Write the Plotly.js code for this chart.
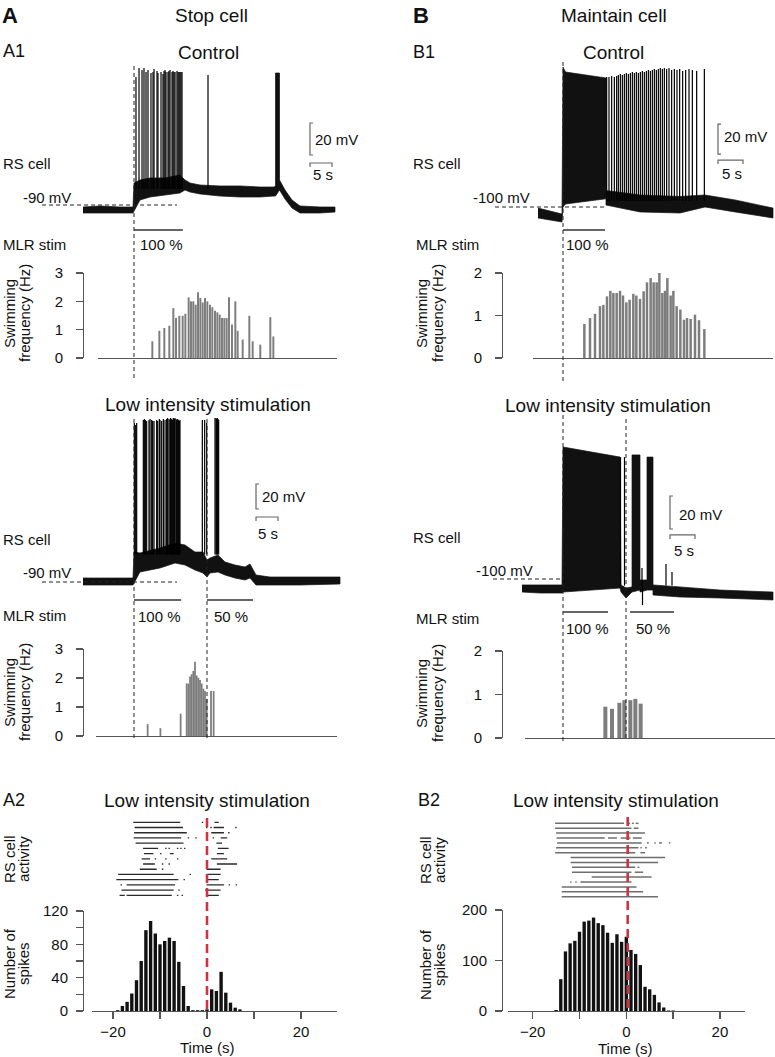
<!DOCTYPE html>
<html><head><meta charset="utf-8">
<script src="https://cdn.plot.ly/plotly-3.0.1.min.js"></script>
<style>html,body{margin:0;padding:0;background:#fff}#chart{width:775px;height:1057px}</style>
</head><body><div id="chart"></div><script>
// ================= DATA =================
// Times in s from first MLR stimulation onset (A1/B1) or from 50% onset (A2/B2); membrane potential in mV.

// ---- A1 Control (Stop cell) : RS cell trace envelope + spikes ----
const aCtrlEnvT  = [-11.59,-7.73,-3.18,-0.23,0,1.36,3.64,7.05,10.45,11.59,12.73,15,19.55,24.09,28.64,31.82,32.16,32.16,33.07,33.07,34.32,35.91,37.73,42.27,45.68];
const aCtrlEnvUp = [-91.25,-90.6,-91.25,-91.25,-76.25,-74.4,-73.1,-73.1,-71.25,-74.4,-76.25,-77.5,-78.1,-78.1,-78.75,-78.75,-78.1,-7.5,-7.5,-74.4,-80.6,-86.9,-90.6,-91.25,-91.25];
const aCtrlEnvLo = [-95,-95,-95,-95,-94.4,-86.9,-85,-83.75,-82.5,-80.6,-81.9,-83.1,-84.4,-85,-85,-84.4,-84.4,-84.4,-80.6,-80.6,-86.25,-91.9,-95,-95,-94.4];
const aCtrlSpikeT    = [0.45,1.14,1.82,2.27,2.73,3.18,3.86,4.32,4.55,5.23,5.45,6.14,6.59,6.82,7.05,7.27,7.73,7.95,8.18,8.64,8.86,9.09,9.32,9.77,10.0,10.23,10.45,10.68,10.91,16.82];
const aCtrlSpikePeak = [-10,-4.4,-5.6,-4.4,-6.9,-5.6,-7.5,-6.9,-5,-6.3,-7.5,-6.9,-8.1,-6.3,-5.6,-6.9,-6.9,-6.3,-5.6,-6.9,-6.3,-6.9,-6.9,-6.3,-6.9,-6.9,-6.9,-6.9,-6.9,-8.75];
const aCtrlSpikeBase = -80;
const aCtrlStim = [[0, 11.1]];
const aCtrlSwimT  = [4.17,5.76,6.89,8.03,8.94,9.55,10.3,11.06,11.67,12.42,12.95,13.48,14.02,14.55,15.08,15.61,16.14,16.67,17.27,17.8,18.41,18.94,19.47,20.0,20.53,21.06,21.59,22.27,23.03,23.56,24.7,26.21,26.97,28.7,30.98,31.67];
const aCtrlSwimHz = [0.59,0.96,1.06,1.14,1.76,1.41,1.49,1.49,1.56,2.14,2.0,2.0,1.88,2.32,2.12,1.96,2.12,2.0,1.88,1.79,1.67,1.61,1.53,1.41,1.41,1.41,2.14,1.18,2.0,0.96,0.65,1.49,0.59,0.47,1.44,0.76];

// ---- A1 Low intensity ----
const aLowEnvT  = [-11.59,-5.45,-0.23,0,1.36,5.91,9.32,11.59,13.86,15.68,16.59,17.27,19.09,20.68,22.95,25.23,26.36,27.73,30.91,37.73,46.82];
const aLowEnvUp = [-86.8,-86.8,-86.8,-66,-66.8,-62.8,-58.8,-60.4,-66,-66,-72.4,-70.8,-68.4,-74,-76.4,-78,-75.6,-84.4,-86,-86,-86];
const aLowEnvLo = [-92.4,-92.4,-92.4,-91.6,-82,-78.8,-74.8,-76.4,-80.4,-82.8,-86,-82.8,-82,-84.4,-86.8,-88.4,-86.8,-92.4,-92.4,-92.4,-91.6];
const aLowSpikeT    = [0.08,0.38,0.61,2.12,2.35,2.58,2.88,3.41,3.64,4.02,4.24,4.55,5.15,5.38,5.76,5.91,6.29,6.67,7.05,7.42,7.65,7.95,8.18,8.33,8.56,8.79,8.94,9.17,9.32,9.55,9.7,9.92,10.08,10.3,10.45,15.53,16.06,16.52,18.41,18.64,18.79,18.94,19.09,19.24];
const aLowSpikePeak = [37.2,35.6,37.2,39.6,40.4,39.6,38.8,39.6,40.4,39.6,38.8,38.8,39.6,38.8,40.4,39.6,38.8,40.4,39.6,40.4,41.2,40.4,39.6,41.2,40.4,39.6,41.2,40.4,41.2,40.4,39.6,40.4,39.6,38.8,39.6,39.6,39.6,37.2,41.2,41.2,40.4,41.2,40.4,39.6];
const aLowSpikeBase = -68;
const aLowStim = [[0, 10.7], [16.59, 27.05]];
const aLowSwimT  = [3.1,6.0,10.6,11.97,12.35,12.73,13.1,13.48,13.86,14.24,14.62,15.0,15.38,15.76,16.14,16.52,17.5,18.1];
const aLowSwimHz = [0.41,0.27,0.77,1.81,1.81,2.05,2.13,2.24,2.56,2.09,2.01,1.93,1.81,1.63,1.55,1.28,1.55,1.55];

// ---- A2 raster (15 trials) & spike histogram ----
const aRasterRows = [
  [[-15.7,-5.7],[-1.1,-0.8],[1.6,2.5]],
  [[-15.4,-5.1],[-0.2,0.1],[0.7,1.0],[1.4,3.6],[6.0,6.3]],
  [[-15.5,-4.3],[0.9,3.6],[4.5,4.8]],
  [[-15.6,-5.5],[-4.1,-3.8],[-2.5,-2.2],[1.2,1.5],[2.9,4.3]],
  [[-15.2,-5.0],[2.0,3.2]],
  [[-13.6,-10.4],[-8.9,-8.6],[-8.2,-7.9],[-6.4,-6.1],[-5.7,-5.4],[-4.9,-4.6],[2.3,4.6]],
  [[-13.4,-11.4],[-10.0,-9.7],[-7.9,-7.1],[2.1,3.6]],
  [[-13.9,-12.1],[-11.1,-10.8],[-8.9,-8.6],[-6.4,-6.1],[0.9,4.3]],
  [[-13.6,-11.1],[-9.6,-9.3],[-8.2,-7.9],[2.1,6.4]],
  [[-14.3,-10.7],[-9.6,-9.3],[-0.1,2.9]],
  [[-18.9,-7.1],[-3.7,-3.4],[0,2.9]],
  [[-19.3,-6.1],[-5.0,-4.7],[0,2.5]],
  [[-18.4,-18.1],[-17.1,-6.8],[-0.1,3.6],[4.6,4.9],[6.1,6.4]],
  [[-18.2,-7.1],[-6.1,-5.8],[-0.4,2.9]],
  [[-18.6,-17.5],[-17.1,-7.5],[-6.4,-6.1],[-5.4,-5.1],[0,2.5]]
];
const aHistT = [-19,-18,-17,-16,-15,-14,-13,-12,-11,-10,-9,-8,-7,-6,-5,-4,-3,-2,-1,0,1,2,3,4,5,6,7];
const aHistN = [1,6,11,21,37,60,97,108,93,80,84,88,84,59,30,6,1,1,1,2,26,24,47,22,10,4,2];

// ---- B1 Control (Maintain cell) ----
const bCtrlEnvT  = [-5,-2.6,-0.2,0,0.5,8.6,8.6,15.4,23.4,28.4,34.4,42];
const bCtrlEnvUp = [-100.7,-102.7,-104.7,-6.7,-10,-14,-89,-92,-93,-92,-95.3,-100.7];
const bCtrlEnvLo = [-107.3,-108.7,-110,-100,-98,-94.5,-98.7,-103.3,-104,-100,-103.3,-107.3];
const bCtrlSpikeT    = [8.73,9.2,9.73,10.27,10.73,11.07,11.47,11.87,12.27,12.67,13.07,13.47,13.87,14.27,14.67,15.07,15.47,15.87,16.27,16.67,17.07,17.47,17.87,18.27,18.67,19.07,19.47,19.87,20.27,20.73,21.2,21.73,22.27,22.8,23.33,23.93,24.53,25.2,25.87,26.73,28.27];
const bCtrlSpikePeak = [-13.3,-13.3,-12.7,-13.3,-12.7,-12,-11.3,-12,-11.3,-10.7,-11.3,-10.7,-10,-10.7,-10,-10.7,-10,-9.3,-10,-9.3,-8.7,-9.3,-8.7,-8,-8.7,-8,-7.3,-8,-7.3,-8,-7.3,-8.7,-8,-8.7,-8,-9.3,-8.7,-8,-8.7,-9.3,-8];
const bCtrlSpikeBase = -96;
const bCtrlStim = [[0, 8.4]];
const bCtrlSwimT  = [4.27,5.4,6.4,7.4,8.07,8.8,9.47,10.07,10.73,11.4,12.0,12.67,13.33,14.07,14.67,15.4,16.13,16.8,17.53,18.13,18.73,19.27,19.87,20.4,20.87,21.53,22.07,22.73,23.47,24.2,24.8,25.53,26.4,27.2,28.27];
const bCtrlSwimHz = [0.80,0.94,1.04,1.22,1.25,1.45,1.58,1.53,1.53,1.58,1.47,1.31,1.37,1.51,1.47,1.39,1.57,1.78,1.88,1.78,1.78,2.02,1.53,1.58,1.88,1.47,1.58,1.22,1.14,0.90,0.94,0.92,1.02,0.89,0.68];

// ---- B1 Low intensity ----
const bLowEnvT  = [-8.2,-4.6,-0.2,0,11.4,11.6,12.6,13.8,13.8,15.4,15.4,16.8,16.8,18.0,18.0,23.4,31.4,42];
const bLowEnvUp = [-103.6,-103.6,-103.6,-20,-26.1,-103.6,-105.5,-104.8,-24.8,-24.8,-100.6,-100.6,-26.1,-26.1,-103.6,-104.8,-106.7,-107.9];
const bLowEnvLo = [-107.9,-108.5,-108.5,-107.9,-105.5,-107.9,-111.5,-107.9,-107.9,-106.7,-107.9,-106.7,-106.7,-106.7,-109.7,-110.9,-111.5,-112.7];
const bLowSpikeT    = [11.5,12.3,15.8,15.9,20.6,21.8];
const bLowSpikePeak = [-26.1,-26.1,-93.3,-115.8,-90.9,-95.8];
const bLowSpikeBase = -104;
const bLowStim = [[0, 9.0], [13.4, 22.2]];
const bLowSecondOnset = 12.6;
const bLowSwimT  = [8.47,9.8,11.27,12.27,13.47,14.47,15.53];
const bLowSwimHz = [0.72,0.67,0.81,0.87,0.87,0.9,0.79];

// ---- B2 raster (16 trials) & spike histogram ----
const bRasterRows = [
  [[-15.2,-0.5],[0.4,0.8],[1.2,1.6],[2.0,2.6]],
  [[-15.2,1.1],[1.6,2.6]],
  [[-15.0,4.0]],
  [[-14.9,-4.6],[-3.9,-2.0],[-1.2,0.9],[1.4,3.3]],
  [[-14.8,3.3],[4.4,4.8],[6.0,6.3],[7.0,7.6],[9.1,9.4]],
  [[-15.0,2.6],[3.0,3.3],[4.0,4.4]],
  [[-15.2,1.9],[3.0,4.0]],
  [[-11.9,8.3]],
  [[-11.9,6.8]],
  [[-11.6,1.9],[2.4,2.8]],
  [[-11.6,1.1],[1.8,3.6]],
  [[-7.4,5.4]],
  [[-12.0,-11.7],[-10.9,-10.6],[-9.8,1.1]],
  [[-13.8,2.2]],
  [[-13.8,3.6]],
  [[-13.8,6.8]]
];
const bHistT = [-15,-14,-13,-12,-11,-10,-9,-8,-7,-6,-5,-4,-3,-2,-1,0,1,2,3,4,5,6,7,8,9,10];
const bHistN = [2,63,118,134,139,157,177,179,185,174,170,155,135,152,137,147,121,113,91,48,43,32,17,7,1,1];
const bRedLineT = 0.3;

const restA = -90, restB = -100;
const aSecondOnset = 16.59;

// ================= DRAWING =================
const W = 775, H = 1057;
const FONT = '"Liberation Sans", Arial, Helvetica, sans-serif';
const AX = '#555';
const domX = (l, r) => [l / W, r / W];
const domY = (t, b) => [1 - b / H, 1 - t / H];
const P = y => 1 - y / H;

function hx(l, r, p0, pps, anchor) {
  return {domain: domX(l, r), range: [(l - p0) / pps, (r - p0) / pps], anchor, visible: false, fixedrange: true};
}
function hy(t, b, pRef, vRef, ppu, anchor) {
  return {domain: domY(t, b), range: [vRef - (b - pRef) / ppu, vRef + (pRef - t) / ppu], anchor, visible: false, fixedrange: true};
}
function lineX(l, r, p0, pps, anchor) {
  return {domain: domX(l, r), range: [(l - p0) / pps, (r - p0) / pps], anchor, showline: true, linecolor: AX, linewidth: 1.4,
    ticks: '', showticklabels: false, showgrid: false, zeroline: false, fixedrange: true};
}
function histX(l, r, p0, pps, anchor) {
  return {domain: domX(l, r), range: [(l - p0) / pps, (r - p0) / pps], anchor, showline: true, linecolor: AX, linewidth: 1.4,
    ticks: 'outside', ticklen: 7, tickwidth: 1.3, tickcolor: AX, tickvals: [-20, -10, 0, 10, 20], ticktext: ['\u221220', '', '0', '', '20'],
    tickfont: {family: FONT, size: 15, color: '#111'}, showgrid: false, zeroline: false, fixedrange: true};
}
function visY(t, b, range, xpos, tickvals, ticktext, standoff) {
  return {domain: domY(t, b), range, anchor: 'free', position: xpos / W, showline: true, linecolor: AX, linewidth: 1.4,
    ticks: 'outside', ticklen: 7, tickwidth: 1.3, tickcolor: AX, tickvals, ticktext: ticktext || tickvals.map(String),
    tickfont: {family: FONT, size: 15, color: '#111'}, ticklabelstandoff: standoff, showgrid: false, zeroline: false, fixedrange: true};
}

const A_P0 = 134, A_PPS = 4.4, B_P0 = 563, B_PPS = 5.0, A2_P0 = 207, A2_PPS = 4.7, B2_P0 = 626.3, B2_PPS = 4.68;

const layout = {
  width: W, height: H, margin: {l: 0, r: 0, t: 0, b: 0}, showlegend: false,
  paper_bgcolor: '#fff', plot_bgcolor: 'rgba(0,0,0,0)',
  font: {family: FONT, size: 15, color: '#111'},
  xaxis: hx(40, 345, A_P0, A_PPS, 'y'),          yaxis: hy(55, 225, 205, restA, 1.6, 'x'),
  xaxis2: lineX(98, 337, A_P0, A_PPS, 'y2'),     yaxis2: visY(273, 358, [0, 3], 83, [0, 1, 2, 3], null, 10),
  xaxis3: hx(40, 345, A_P0, A_PPS, 'y3'),        yaxis3: hy(410, 600, 582, restA, 1.25, 'x3'),
  xaxis4: lineX(96, 337, A_P0, A_PPS, 'y4'),     yaxis4: visY(649, 736, [0, 3], 83, [0, 1, 2, 3], null, 10),
  xaxis5: hx(92, 337, A2_P0, A2_PPS, 'y5'),      yaxis5: {domain: domY(819.7, 897.9), range: [15.5, 0.5], visible: false, anchor: 'x5', fixedrange: true},
  xaxis6: histX(92, 337, A2_P0, A2_PPS, 'y6'),   yaxis6: visY(911, 1011, [0, 120], 83, [0, 20, 40, 60, 80, 100, 120], ['0', '', '40', '', '80', '', '120'], 5),
  xaxis7: hx(470, 775, B_P0, B_PPS, 'y7'),       yaxis7: hy(55, 225, 207, restB, 1.5, 'x7'),
  xaxis8: lineX(533, 773, B_P0, B_PPS, 'y8'),    yaxis8: visY(273, 358, [0, 2], 502, [0, 1, 2], null, 10),
  xaxis9: hx(470, 775, B_P0, B_PPS, 'y9'),       yaxis9: hy(430, 610, 579, restB, 1.65, 'x9'),
  xaxis10: lineX(525, 775, B_P0, B_PPS, 'y10'),  yaxis10: visY(651, 738, [0, 2], 502, [0, 1, 2], null, 10),
  xaxis11: hx(508, 745, B2_P0, B2_PPS, 'y11'),   yaxis11: {domain: domY(820.9, 899.1), range: [16.5, 0.5], visible: false, anchor: 'x11', fixedrange: true},
  xaxis12: histX(508, 745, B2_P0, B2_PPS, 'y12'), yaxis12: visY(910, 1011, [0, 200], 502, [0, 100, 200], null, 5),
  shapes: [], annotations: []
};

const traces = [];
function envelope(T, U, L, xa, ya) {
  traces.push({type: 'scatter', mode: 'lines', x: T.concat(T.slice().reverse()), y: U.concat(L.slice().reverse()),
    fill: 'toself', fillcolor: '#111', line: {color: '#111', width: 0.7}, xaxis: xa, yaxis: ya, hoverinfo: 'skip'});
}
function spikes(T, Pk, base, xa, ya) {
  const x = [], y = [];
  T.forEach((t, i) => { x.push(t, t, null); y.push(base, Pk[i], null); });
  traces.push({type: 'scatter', mode: 'lines', x, y, line: {color: '#000', width: 1.2}, xaxis: xa, yaxis: ya, hoverinfo: 'skip'});
}
function bars(T, V, w, color, xa, ya) {
  traces.push({type: 'bar', x: T, y: V, width: w, marker: {color, line: {width: 0}}, xaxis: xa, yaxis: ya, hoverinfo: 'skip'});
}
function raster(rows, color, width, xa, ya) {
  const x = [], y = [];
  rows.forEach((segs, i) => segs.forEach(s => { x.push(s[0], s[1], null); y.push(i + 1, i + 1, null); }));
  traces.push({type: 'scatter', mode: 'lines', x, y, line: {color, width}, xaxis: xa, yaxis: ya, hoverinfo: 'skip'});
}
function scaleBar(xa, ya, t0, vBot, hV, tT, tV) {
  const c = '#666';
  traces.push({type: 'scatter', mode: 'lines', x: [t0 + tT, t0, t0, t0 + tT], y: [vBot + 20, vBot + 20, vBot, vBot],
    line: {color: c, width: 1.2}, xaxis: xa, yaxis: ya, hoverinfo: 'skip'});
  traces.push({type: 'scatter', mode: 'lines', x: [t0, t0, t0 + 5, t0 + 5], y: [hV - tV, hV, hV, hV - tV],
    line: {color: c, width: 1.2}, xaxis: xa, yaxis: ya, hoverinfo: 'skip'});
}

// A column
envelope(aCtrlEnvT, aCtrlEnvUp, aCtrlEnvLo, 'x', 'y');
spikes(aCtrlSpikeT, aCtrlSpikePeak, aCtrlSpikeBase, 'x', 'y');
scaleBar('x', 'y', 40.0, -58.75, -63.75, 0.7, 2.5);
bars(aCtrlSwimT, aCtrlSwimHz, 0.45, '#7d7d7d', 'x2', 'y2');
envelope(aLowEnvT, aLowEnvUp, aLowEnvLo, 'x3', 'y3');
spikes(aLowSpikeT, aLowSpikePeak, aLowSpikeBase, 'x3', 'y3');
scaleBar('x3', 'y3', 27.73, -31.6, -38, 0.7, 3.2);
bars(aLowSwimT, aLowSwimHz, 0.4, '#7d7d7d', 'x4', 'y4');
raster(aRasterRows, '#2a2a2a', 1.3, 'x5', 'y5');
bars(aHistT, aHistN, 0.72, '#111', 'x6', 'y6');
// B column
envelope(bCtrlEnvT, bCtrlEnvUp, bCtrlEnvLo, 'x7', 'y7');
spikes(bCtrlSpikeT, bCtrlSpikePeak, bCtrlSpikeBase, 'x7', 'y7');
scaleBar('x7', 'y7', 31.0, -64.7, -68.7, 0.6, 2.7);
bars(bCtrlSwimT, bCtrlSwimHz, 0.5, '#7d7d7d', 'x8', 'y8');
envelope(bLowEnvT, bLowEnvUp, bLowEnvLo, 'x9', 'y9');
spikes(bLowSpikeT, bLowSpikePeak, bLowSpikeBase, 'x9', 'y9');
scaleBar('x9', 'y9', 21.4, -69.7, -73.3, 0.6, 2.4);
bars(bLowSwimT, bLowSwimHz, 0.8, '#7d7d7d', 'x10', 'y10');
raster(bRasterRows, '#6e6e6e', 1.5, 'x11', 'y11');
bars(bHistT, bHistN, 0.72, '#111', 'x12', 'y12');

// ---- shapes ----
const S = layout.shapes;
const dash = {color: '#222', width: 1, dash: '4px,3px'};
function vdash(xa, t, y0, y1) { S.push({type: 'line', xref: xa, yref: 'paper', x0: t, x1: t, y0: P(y0), y1: P(y1), line: dash}); }
function hdash(xa, ya, t0, t1, v) { S.push({type: 'line', xref: xa, yref: ya, x0: t0, x1: t1, y0: v, y1: v, line: dash}); }
function stimBars(xa, list, py) { list.forEach(s => S.push({type: 'line', xref: xa, yref: 'paper', x0: s[0], x1: s[1], y0: P(py), y1: P(py), line: {color: '#333', width: 1.6}})); }
vdash('x', 0, 66, 381); vdash('x3', 0, 419, 741); vdash('x3', aSecondOnset, 419, 741);
vdash('x7', 0, 62, 381); vdash('x9', 0, 415, 741); vdash('x9', bLowSecondOnset, 419, 741);
hdash('x', 'y', -20.9, 9.77, restA);
hdash('x3', 'y3', -20.9, 9.77, restA);
hdash('x7', 'y7', -13.6, 8.8, restB);
hdash('x9', 'y9', -14.0, -0.2, restB);
stimBars('x', aCtrlStim, 230); stimBars('x3', aLowStim, 600);
stimBars('x7', bCtrlStim, 230); stimBars('x9', bLowStim, 612);
const red = {color: '#cf3340', width: 2.6, dash: '9px,5px'};
S.push({type: 'line', xref: 'x6', yref: 'paper', x0: 0, x1: 0, y0: P(818), y1: P(1011), line: red});
S.push({type: 'line', xref: 'x12', yref: 'paper', x0: bRedLineT, x1: bRedLineT, y0: P(817), y1: P(1011), line: red});

// ---- text ----
const A = layout.annotations;
function T(text, x, y, o) {
  A.push(Object.assign({text, x: x / W, y: P(y), xref: 'paper', yref: 'paper', showarrow: false, xanchor: 'left', yanchor: 'middle',
    font: {family: FONT, size: 15, color: '#111'}}, o || {}));
}
const big = {font: {family: FONT, size: 19, color: '#111'}, xanchor: 'center'};
const rot = {textangle: -90, xanchor: 'center'};
T('<b>A</b>', 0, 15, {font: {family: FONT, size: 22, color: '#111'}});
T('Stop cell', 211, 15, big);
T('A1', 1, 51, {font: {family: FONT, size: 18, color: '#111'}});
T('Control', 209, 52, big);
T('<b>B</b>', 411, 15, {font: {family: FONT, size: 22, color: '#111'}});
T('Maintain cell', 614, 15, big);
T('B1', 411, 52, {font: {family: FONT, size: 18, color: '#111'}});
T('Control', 613, 52, big);
// A1 control
T('RS cell', 1, 163); T('-90 mV', 21, 197); T('20 mV', 313, 139); T('5 s', 311, 175);
T('MLR stim', 1, 244); T('100 %', 138, 244);
T('Swimming', 9, 314, rot); T('frequency (Hz)', 24, 313, rot);
// B1 control
T('RS cell', 411, 163); T('-100 mV', 471, 197); T('20 mV', 722, 137); T('5 s', 720, 173);
T('MLR stim', 414, 244); T('100 %', 564, 244);
T('Swimming', 421, 314, rot); T('frequency (Hz)', 437, 313, rot);
// A1 low
T('Low intensity stimulation', 207.5, 404, big);
T('RS cell', 1, 539); T('-90 mV', 21, 572); T('20 mV', 260, 496); T('5 s', 256, 533);
T('MLR stim', 1, 615); T('100 %', 136, 616); T('50 %', 212, 616);
T('Swimming', 9, 693, rot); T('frequency (Hz)', 24, 692, rot);
// B1 low
T('Low intensity stimulation', 607.5, 405, big);
T('RS cell', 411, 537); T('-100 mV', 474, 570); T('20 mV', 677, 515); T('5 s', 672, 550);
T('MLR stim', 414, 618); T('100 %', 564, 628); T('50 %', 634, 628);
T('Swimming', 421, 694, rot); T('frequency (Hz)', 437, 693, rot);
// A2
T('A2', 1, 800, {font: {family: FONT, size: 18, color: '#111'}});
T('Low intensity stimulation', 207, 800, big);
T('RS cell', 9, 859, rot); T('activity', 23, 859, rot);
T('Number of', 9, 964, rot); T('spikes', 23, 964, rot);
T('Time (s)', 207, 1047, {xanchor: 'center'});
// B2
T('B2', 416, 800, {font: {family: FONT, size: 18, color: '#111'}});
T('Low intensity stimulation', 616, 800, big);
T('RS cell', 425, 860, rot); T('activity', 439, 860, rot);
T('Number of', 425, 964, rot); T('spikes', 439, 964, rot);
T('Time (s)', 625, 1048, {xanchor: 'center'});

Plotly.newPlot('chart', traces, layout, {displayModeBar: false, staticPlot: true});
</script></body></html>
